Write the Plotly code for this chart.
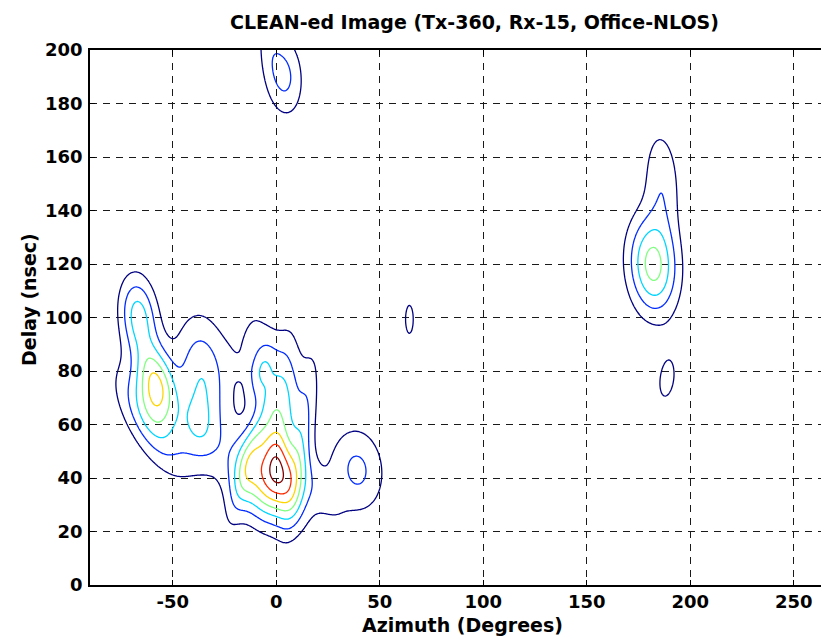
import numpy as np
import plotly.graph_objects as go

# CLEAN components, each restored with an elliptical Gaussian beam
# (azimuth [deg], delay [ns], amplitude, beam width az, beam width delay, az-shear per ns)
comp_az     = [-3.9, 1.4, 2.7, -6.9, -11.0, 12.3, -57.9, -66.7, -38.0, -35.8,
               -61.5, 39.1, 23.3, -11.5, 181.9, 186.3, 188.7, 64.3, 4.3, -4.0, -18.0, -2.5]
comp_delay  = [39.6, 44.7, 65.2, 80.4, 52.4, 56.0, 75.1, 100.8, 57.3, 78.3,
               60.8, 43.0, 32.2, 94.3, 119.4, 151.4, 76.8, 99.3, 190.1, 203.0, 80.5, 67.0]
comp_amp    = [5.24, 1.46, 3.25, 2.35, 1.59, 2.13, 4.77, 3.33, 1.94, 2.80,
               2.40, 2.21, 0.63, 1.00, 4.36, 1.76, 1.21, 1.10, 2.12, 1.00, 0.35, 0.35]
comp_waz    = [17.06, 6.46, 7.19, 6.17, 5.97, 5.92, 9.01, 8.87, 10.99, 12.59,
               11.50, 13.29, 8.36, 10.88, 11.66, 8.66, 7.27, 6.00, 8.83, 6.50, 5.00, 4.00]
comp_wdelay = [16.30, 15.22, 23.70, 11.42, 30.47, 30.28, 14.67, 14.81, 13.50, 22.13,
               19.47, 16.26, 14.47, 19.38, 18.05, 20.00, 14.04, 16.83, 15.24, 17.21, 3.50, 6.00]
comp_shear  = [-0.23, -0.25, 0.14, 0.22, 0.37, 0.18, -0.20, -0.09, -0.14, -0.08,
               -0.61, -0.07, -0.60, 0.17, -0.07, -0.06, 0.14, 0.00, -0.07, -0.11, 0.00, 0.00]

contour_levels = [1, 2, 3, 4, 5, 6, 7]
level_colors = ["#000080", "#002bff", "#00d5ff", "#80ff80", "#ffd500", "#ff2b00", "#800000"]

x_ticks = [-50, 0, 50, 100, 150, 200, 250]
y_ticks = [0, 20, 40, 60, 80, 100, 120, 140, 160, 180, 200]

title_text = "CLEAN-ed Image (Tx-360, Rx-15, Office-NLOS)"
x_title = "Azimuth (Degrees)"
y_title = "Delay (nsec)"

# restored image on a fine grid
az = np.arange(-90, 270.01, 0.5)
delay = np.arange(0, 215.01, 0.5)
AZ, DL = np.meshgrid(az, delay)
Z = np.zeros_like(AZ)
for a0, d0, amp, wa, wd, k in zip(comp_az, comp_delay, comp_amp, comp_waz, comp_wdelay, comp_shear):
    dx = AZ - (a0 + k * (DL - d0))
    dy = DL - d0
    Z += amp * np.exp(-(dx / wa) ** 2 - (dy / wd) ** 2)

n = len(level_colors)
colorscale = [[i / (n - 1), c] for i, c in enumerate(level_colors)]

FONT = "DejaVu Sans"

fig = go.Figure(go.Contour(
    x=az, y=delay, z=Z,
    contours=dict(start=contour_levels[0], end=contour_levels[-1], size=1, coloring="lines"),
    colorscale=colorscale, zmin=contour_levels[0], zmax=contour_levels[-1],
    line=dict(width=1.3), showscale=False, hoverinfo="skip",
))

# page body has an 8px margin: figure coordinates = reference pixels - 8
OFF = 8
W, H = 829 - OFF, 639 - OFF
L, R, T, B = 90 - OFF, 0, 50 - OFF, H - (585 - OFF)
fig.update_layout(
    width=W, height=H, margin=dict(l=L, r=R, t=T, b=B, autoexpand=False),
    plot_bgcolor="white", paper_bgcolor="white", showlegend=False,
    font=dict(family=FONT, size=18, color="black", weight="bold"),
)
grid = dict(showgrid=True, gridcolor="#1a1a1a", griddash="7px,6px", gridwidth=1,
            showline=True, linecolor="black", linewidth=1.5,
            ticks="inside", ticklen=5, tickcolor="black", zeroline=False,
            tickfont=dict(family=FONT, size=18, color="black", weight="bold"))
fig.update_xaxes(range=[-90, 267], tickvals=x_ticks, ticktext=[str(v) for v in x_ticks],
                 mirror="ticks", **grid)
fig.update_yaxes(range=[0, 200], tickvals=y_ticks, ticktext=[str(v) for v in y_ticks],
                 mirror=False, ticklabelstandoff=2, **grid)

pw, ph = W - L - R, H - T - B
def ref2paper(px, py):
    return (px - OFF - L) / pw, (H - B - (py - OFF)) / ph

tx, ty = ref2paper(474, 22)
xx, xy = ref2paper(462, 625)
yx, yy = ref2paper(29, 300)
fig.add_annotation(text=title_text, x=tx, y=ty, xref="paper", yref="paper",
                   showarrow=False, font=dict(family=FONT, size=19, color="black", weight="bold"),
                   xanchor="center", yanchor="middle")
fig.add_annotation(text=x_title, x=xx, y=xy, xref="paper", yref="paper",
                   showarrow=False, font=dict(family=FONT, size=19, color="black", weight="bold"),
                   xanchor="center", yanchor="middle")
fig.add_annotation(text=y_title, x=yx, y=yy, xref="paper", yref="paper", textangle=-90,
                   showarrow=False, font=dict(family=FONT, size=19, color="black", weight="bold"),
                   xanchor="center", yanchor="middle")

fig.write_html("out.html")
